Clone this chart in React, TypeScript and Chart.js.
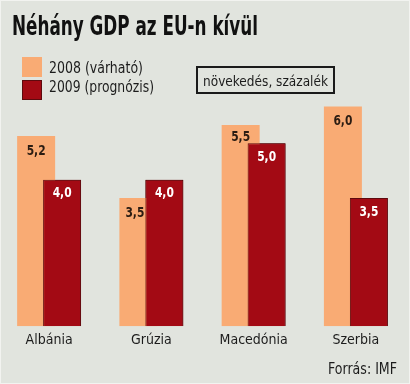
import React, { useEffect, useLayoutEffect, useRef } from "react";
import { Chart, registerables } from "chart.js";

Chart.register(...registerables);

const categories = ["Albánia", "Grúzia", "Macedónia", "Szerbia"];
const series2008 = [5.2, 3.5, 5.5, 6.0];
const series2009 = [4.0, 4.0, 5.0, 3.5];
const seriesLabels = ["2008 (várható)", "2009 (prognózis)"];
const titleText = "Néhány GDP az EU-n kívül";
const unitText = "növekedés, százalék";
const sourceText = "Forrás: IMF";

const FONT = '"Liberation Sans Narrow", "DejaVu Sans Condensed", "Liberation Sans", sans-serif';
const ORANGE = "#f9ab74";
const RED = "#a30a14";
const RED_BORDER = "#5e0a0e";
const BG = "#e1e4de";
const TEXT = "#1c1c1c";

const fmt = (v: number) => v.toFixed(1).replace(".", ",");

let measureCtx: CanvasRenderingContext2D | null = null;
function measure(text: string, font: string): number {
  if (!measureCtx) measureCtx = document.createElement("canvas").getContext("2d");
  measureCtx!.font = font;
  return measureCtx!.measureText(text).width;
}

function FitText(props: { text: string; left: number; top: number; size: number; bold?: boolean; width: number; color?: string }) {
  const ref = useRef<HTMLDivElement>(null);
  useLayoutEffect(() => {
    const el = ref.current;
    if (!el) return;
    const w = measure(props.text, `${props.bold ? "bold " : ""}${props.size}px ${FONT}`);
    const s = w > 0 ? props.width / w : 1;
    el.style.transform = `scaleX(${s})`;
  }, [props.text, props.width, props.size, props.bold]);
  return (
    <div
      ref={ref}
      style={{
        position: "absolute",
        left: props.left,
        top: props.top,
        fontFamily: FONT,
        fontSize: props.size,
        fontWeight: props.bold ? "bold" : "normal",
        lineHeight: 1,
        whiteSpace: "nowrap",
        color: props.color || TEXT,
        transformOrigin: "0 0",
      }}
    >
      {props.text}
    </div>
  );
}

const VALUE_SCALE_X = 0.85;

function drawNarrow(ctx: CanvasRenderingContext2D, txt: string, x: number, y: number) {
  ctx.save();
  ctx.translate(x, y);
  ctx.scale(VALUE_SCALE_X, 1);
  ctx.fillText(txt, 0, 0);
  ctx.restore();
}

const labelPlugin = {
  id: "overlapLabels",
  afterDatasetsDraw(chart: any) {
    const ctx = chart.ctx as CanvasRenderingContext2D;
    const m0 = chart.getDatasetMeta(0);
    const m1 = chart.getDatasetMeta(1);
    // draw the 2009 bars over the 2008 bars
    ctx.save();
    const a = chart.chartArea;
    ctx.beginPath();
    ctx.rect(a.left, a.top - 2, a.right - a.left, a.bottom - a.top + 2);
    ctx.clip();
    m1.data.forEach((el: any) => el.draw(ctx));
    ctx.restore();

    ctx.save();
    ctx.font = `bold 14px ${FONT}`;
    ctx.textAlign = "center";
    ctx.textBaseline = "middle";
    const d0 = chart.data.datasets[0].data as number[];
    const d1 = chart.data.datasets[1].data as number[];
    m0.data.forEach((el: any, i: number) => {
      const red = m1.data[i];
      const txt = fmt(d0[i]);
      const tw = ctx.measureText(txt).width * VALUE_SCALE_X;
      let x = el.x;
      let y = el.y + 15;
      if (y + 6 > red.y) {
        if (el.y + 6 < red.y - 6) {
          y = red.y - 6;
        } else {
          x = Math.min(x, red.x - red.width / 2 - tw / 2 - 1);
        }
      }
      ctx.fillStyle = "#2b1c12";
      drawNarrow(ctx, txt, x, y);
    });
    m1.data.forEach((el: any, i: number) => {
      ctx.fillStyle = "#ffffff";
      drawNarrow(ctx, fmt(d1[i]), el.x, el.y + 14);
    });
    ctx.restore();
  },
};

export default function App() {
  const canvasRef = useRef<HTMLCanvasElement>(null);

  useEffect(() => {
    document.body.style.margin = "0";
    const canvas = canvasRef.current;
    if (!canvas) return;
    const chart = new Chart(canvas, {
      type: "bar",
      data: {
        labels: categories,
        datasets: [
          { label: seriesLabels[0], data: series2008, backgroundColor: ORANGE, borderWidth: 0 },
          { label: seriesLabels[1], data: series2009, backgroundColor: RED, borderColor: RED_BORDER, borderWidth: 1 },
        ],
      },
      options: {
        responsive: false,
        animation: false,
        events: [],
        layout: { padding: { top: 70, bottom: 29, left: 0, right: 0 } },
        datasets: { bar: { categoryPercentage: 0.508, barPercentage: 1.463 } } as any,
        plugins: {
          legend: { display: false },
          title: { display: false },
          tooltip: { enabled: false },
        },
        scales: {
          x: {
            grid: { display: false, drawTicks: false },
            border: { display: false },
            ticks: { font: { family: FONT, size: 14 }, color: TEXT, padding: 6 },
          },
          y: { display: false, min: 0, max: 7 },
        },
      },
      plugins: [labelPlugin],
    });
    return () => chart.destroy();
  }, []);

  return (
    <div
      style={{
        position: "relative",
        width: 410,
        height: 384,
        overflow: "hidden",
        background: BG,
        boxShadow: "inset 0 0 0 1px #f2f3f0",
      }}
    >
      <canvas
        ref={canvasRef}
        width={409}
        height={384}
        style={{ position: "absolute", left: -2, top: 0, width: 409, height: 384 }}
      />
      <FitText text={titleText} left={12} top={12} size={27} bold width={246} color="#111" />
      <div style={{ position: "absolute", left: 22, top: 57, width: 20, height: 20, background: ORANGE }} />
      <div style={{ position: "absolute", left: 22, top: 80, width: 20, height: 20, background: RED, boxSizing: "border-box", border: `1px solid ${RED_BORDER}` }} />
      <FitText text={seriesLabels[0]} left={49} top={61} size={15} width={94} />
      <FitText text={seriesLabels[1]} left={49} top={80} size={15} width={105} />
      <div
        style={{
          position: "absolute",
          left: 196,
          top: 66,
          width: 139,
          height: 28,
          boxSizing: "border-box",
          border: "2px solid #1a1a1a",
        }}
      />
      <FitText text={unitText} left={203} top={74} size={14} width={125} />
      <FitText text={sourceText} left={328} top={362} size={15} width={69} />
    </div>
  );
}
